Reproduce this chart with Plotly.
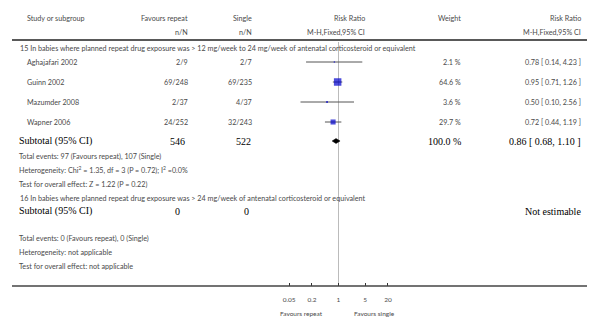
import math
import plotly.graph_objects as go

# ---------------- data ----------------
studies = ["Aghajafari 2002", "Guinn 2002", "Mazumder 2008", "Wapner 2006"]
repeat_nN = ["2/9", "69/248", "2/37", "24/252"]
single_nN = ["2/7", "69/235", "4/37", "32/243"]
weights = [2.1, 64.6, 3.6, 29.7]
rr = [0.78, 0.95, 0.50, 0.72]
rr_lo = [0.14, 0.71, 0.10, 0.44]
rr_hi = [4.23, 1.26, 2.56, 1.19]
sub15_total = ["546", "522"]
sub15_rr = [0.86, 0.68, 1.10]
sub15_weight = "100.0 %"
sub16_total = ["0", "0"]
tick_vals = [0.05, 0.2, 1, 5, 20]
tick_text = ["0.05", "0.2", "1", "5", "20"]

sec15_title = "15 In babies where planned repeat drug exposure was > 12 mg/week to 24 mg/week of antenatal corticosteroid or equivalent"
sec16_title = "16 In babies where planned repeat drug exposure was > 24 mg/week of antenatal corticosteroid or equivalent"
sec15_notes = ["Total events: 97 (Favours repeat), 107 (Single)",
               "Heterogeneity: Chi<sup>2</sup> = 1.35, df = 3 (P = 0.72); I<sup>2</sup> =0.0%",
               "Test for overall effect: Z = 1.22 (P = 0.22)"]
sec16_notes = ["Total events: 0 (Favours repeat), 0 (Single)",
               "Heterogeneity: not applicable",
               "Test for overall effect: not applicable"]

# ---------------- layout (page pixel positions) ----------------
W, H = 601, 327
OFF = 8            # default page body margin: figure starts at (8, 8) on the page
FW, FH = W - OFF, H - OFF
SANS = "Lato"
SERIF = "Liberation Serif"
GRAY = "#4a4a4a"
FS = 7.2
BFS = 10

row_y = [62, 82, 102, 122]
y_h1, y_h2, y_line = 18, 32, 40
y_sec15, y_sub15 = 48, 141
y_notes15 = [156, 170, 184]
y_sec16, y_sub16 = 198, 211
y_notes16 = [238, 252, 266]
y_axis = 286
y_fav = 313

x_name, x_sec, x_sub = 25, 18, 17
x_rep, x_sing, x_rrh, x_w, x_rr = 190, 254, 367, 463, 583

# forest scale: page pixel = 338.5 + 38*log10(v)
fx0, fx1 = 270, 410
def inv(px):
    return (px - 338.5) / 38.0

fig = go.Figure()
ann = []

def txt(x, y, s, anchor="left", bold=False, size=None, color=None):
    ann.append(dict(x=x, y=y, xref="x", yref="y", text=s, showarrow=False,
                    xanchor=anchor, yanchor="middle",
                    font=dict(family=SERIF if bold else SANS,
                              size=size or (BFS if bold else FS),
                              color=color or ("#000" if bold else GRAY))))

# headers
txt(x_name, y_h1, "Study or subgroup")
txt(x_rep, y_h1, "Favours repeat", "right")
txt(x_sing, y_h1, "Single", "right")
txt(x_rrh, y_h1, "Risk Ratio", "right")
txt(x_w, y_h1, "Weight", "right")
txt(x_rr, y_h1, "Risk Ratio", "right")
txt(x_rep, y_h2, "n/N", "right")
txt(x_sing, y_h2, "n/N", "right")
txt(x_rrh, y_h2, "M-H,Fixed,95% CI", "right")
txt(x_rr, y_h2, "M-H,Fixed,95% CI", "right")

# section 15
txt(x_sec, y_sec15, sec15_title)
for i, s in enumerate(studies):
    y = row_y[i]
    txt(x_name, y, s)
    txt(x_rep, y, repeat_nN[i], "right")
    txt(x_sing, y, single_nN[i], "right")
    txt(x_w, y, f"{weights[i]:.1f} %", "right")
    txt(x_rr, y, f"{rr[i]:.2f} [ {rr_lo[i]:.2f}, {rr_hi[i]:.2f} ]", "right")

txt(x_sub, y_sub15, "Subtotal (95% CI)", bold=True)
txt(x_rep - 3, y_sub15, sub15_total[0], "right", bold=True)
txt(x_sing - 1, y_sub15, sub15_total[1], "right", bold=True)
txt(x_w, y_sub15, sub15_weight, "right", bold=True)
txt(x_rr, y_sub15, f"{sub15_rr[0]:.2f} [ {sub15_rr[1]:.2f}, {sub15_rr[2]:.2f} ]", "right", bold=True)
for y, s in zip(y_notes15, sec15_notes):
    txt(x_sub, y, s)

# section 16
txt(x_sec, y_sec16, sec16_title)
txt(x_sub, y_sub16, "Subtotal (95% CI)", bold=True)
txt(x_rep - 8, y_sub16, sub16_total[0], "right", bold=True)
txt(x_sing - 3, y_sub16, sub16_total[1], "right", bold=True)
txt(x_rr, y_sub16, "Not estimable", "right", bold=True)
for y, s in zip(y_notes16, sec16_notes):
    txt(x_sub, y, s)

# favours labels
txt(325, y_fav, "Favours repeat", "right", size=6.5)
txt(352, y_fav, "Favours single", "left", size=6.5)

# ---------------- forest marks ----------------
cx, cy = [], []
for i in range(len(studies)):
    cx += [rr_lo[i], rr_hi[i], None]
    cy += [row_y[i], row_y[i], None]
fig.add_trace(go.Scatter(x=cx, y=cy, xaxis="x2", yaxis="y", mode="lines",
                         line=dict(color="#555", width=1), hoverinfo="skip"))
fig.add_trace(go.Scatter(x=rr, y=row_y, xaxis="x2", yaxis="y", mode="markers",
                         marker=dict(symbol="square", color="#0000CC",
                                     size=[7.5 * math.sqrt(w / 64.6) for w in weights],
                                     line=dict(width=0)), hoverinfo="skip"))
fig.add_trace(go.Scatter(x=[sub15_rr[1], sub15_rr[0], sub15_rr[2], sub15_rr[0], sub15_rr[1]],
                         y=[y_sub15, y_sub15 - 2.5, y_sub15, y_sub15 + 2.5, y_sub15],
                         xaxis="x2", yaxis="y", mode="lines", fill="toself",
                         fillcolor="#000", line=dict(color="#000", width=0.5),
                         hoverinfo="skip"))

shapes = [
    dict(type="line", xref="x", yref="y", x0=12, x1=587, y0=y_line, y1=y_line,
         line=dict(color="#222", width=1.5)),
    dict(type="line", xref="x", yref="y", x0=12, x1=587, y0=y_axis, y1=y_axis,
         line=dict(color="#444", width=1.5)),
    dict(type="line", xref="x2", yref="y", x0=1, x1=1, y0=y_line + 2, y1=y_axis,
         line=dict(color="#bbb", width=1), layer="below"),
]

fig.update_layout(
    width=FW, height=FH, margin=dict(l=0, r=0, t=0, b=0),
    paper_bgcolor="white", plot_bgcolor="white", showlegend=False,
    annotations=ann, shapes=shapes,
    xaxis=dict(range=[OFF, W], domain=[0, 1], visible=False, fixedrange=True),
    yaxis=dict(range=[H, OFF], domain=[0, 1], visible=False, fixedrange=True),
    xaxis2=dict(type="log", range=[inv(fx0), inv(fx1)],
                domain=[(fx0 - OFF) / FW, (fx1 - OFF) / FW],
                anchor="free", position=(H - y_axis) / FH,
                showgrid=False, zeroline=False, showline=False,
                ticks="inside", ticklen=3, tickwidth=1, tickcolor="#333",
                tickvals=tick_vals, ticktext=tick_text, ticklabelstandoff=8,
                tickfont=dict(family=SANS, size=6.5, color=GRAY), fixedrange=True),
)

fig.write_html("out.html")
